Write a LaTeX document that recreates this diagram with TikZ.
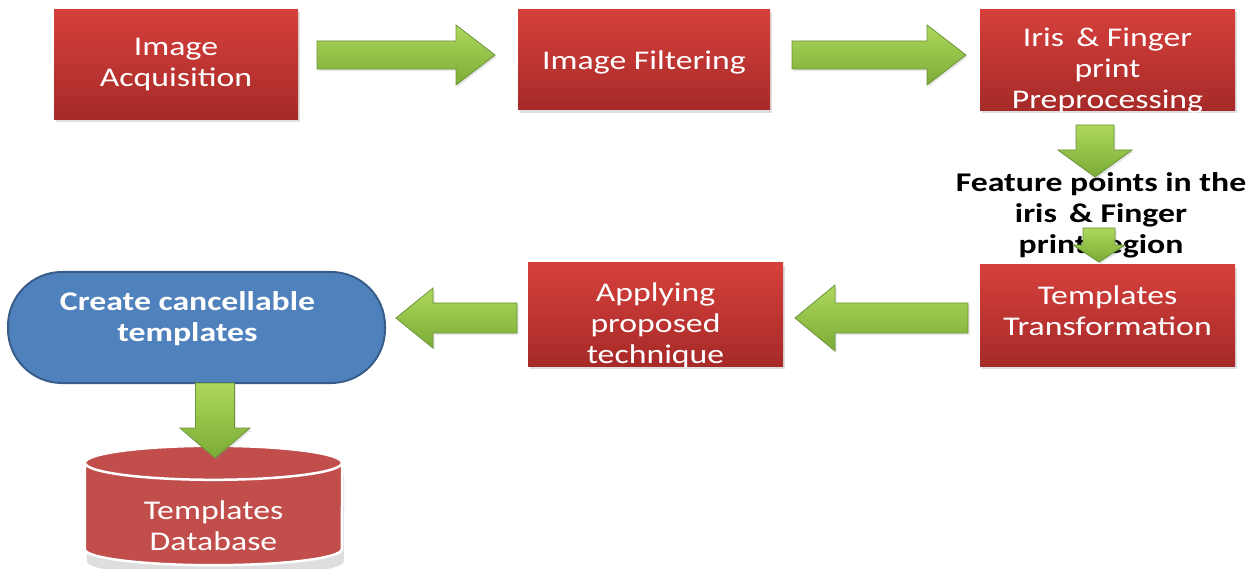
\documentclass[tikz,border=0pt]{standalone}
\usepackage{fontspec}
\setmainfont{Carlito}
\newfontfamily\boxfont[FakeStretch=1.25]{Carlito}
\usetikzlibrary{shadows,calc}
\definecolor{redtop}{RGB}{214,64,60}
\definecolor{redbot}{RGB}{166,42,40}
\definecolor{bluefill}{RGB}{79,129,189}
\definecolor{blueline}{RGB}{56,93,138}
\definecolor{greentop}{RGB}{172,216,92}
\definecolor{greenbot}{RGB}{124,172,54}
\definecolor{greenline}{RGB}{108,148,58}
\definecolor{cylred}{RGB}{194,78,76}
\tikzset{
  redbox/.style={rectangle, top color=redtop, bottom color=redbot, draw=none,
    drop shadow={opacity=0.25, shadow xshift=1.5pt, shadow yshift=-3pt}},
  wtext/.style={text=white, align=center, font=\boxfont\fontsize{27}{31}\selectfont},
  btext/.style={text=black, align=center, font=\boxfont\bfseries\fontsize{27}{31}\selectfont},
  garrowstyle/.style={top color=greentop, bottom color=greenbot, draw=greenline, line width=0.8pt,
    drop shadow={opacity=0.2, shadow xshift=1.5pt, shadow yshift=-2pt}},
}
% #1 centre coordinate, #2 angle, #3 length, #4 shaft half, #5 head half, #6 head length
\newcommand\garrow[6]{%
  \begin{scope}[shift={(#1)}, rotate=#2]
    \path[garrowstyle] ({-#3/2},-#4) -- ({#3/2-#6},-#4) -- ({#3/2-#6},-#5) -- ({#3/2},0)
      -- ({#3/2-#6},#5) -- ({#3/2-#6},#4) -- ({-#3/2},#4) -- cycle;
  \end{scope}}
\begin{document}
\begin{tikzpicture}[x=1pt,y=-1pt]
\useasboundingbox[fill=white] (0,0) rectangle (1256,569);

% boxes
\node[redbox, minimum width=244pt, minimum height=110pt] (n1) at (176,64.5) {};
\node[wtext] (t1) at (n1.center) {Image\\Acquisition};
\node[redbox, minimum width=252pt, minimum height=100pt] (n2) at (644,60) {};
\node[wtext] (t2) at ($(n2.center)+(0,2)$) {Image Filtering};
\node[redbox, minimum width=255pt, minimum height=101pt] (n3) at (1107.5,60) {};
\node[wtext] (t3) at ($(n3.center)+(0,11)$) {Iris \,\& Finger\\print\\Preprocessing};
\node[redbox, minimum width=255pt, minimum height=101pt] (n4) at (1107.5,315.5) {};
\node[wtext] (t4) at ($(n4.center)+(0,-5)$) {Templates\\Transformation};
\node[redbox, minimum width=255pt, minimum height=103pt] (n5) at (655.5,314.5) {};
\node[wtext] (t5) at ($(n5.center)+(0,11)$) {Applying\\proposed\\technique};
\node[rectangle, rounded corners=54pt, fill=bluefill, draw=blueline, line width=2pt,
  minimum width=377pt, minimum height=111pt] (n6) at (196.5,327.5) {};
\node[wtext, font=\boxfont\bfseries\fontsize{27}{31}\selectfont] (t6) at ($(n6.center)+(-9,-9)$) {Create cancellable\\templates};

% database cylinder
\node[minimum width=257pt, minimum height=102pt] (db) at (213.5,506) {};
\path[fill=black!25, opacity=0.5] ($(db.north west)+(2,19)$) -- ($(db.south west)+(2,4)$)
  arc[start angle=180, end angle=0, x radius=128.5, y radius=16]
  -- ($(db.north east)+(2,19)$) -- cycle;
\path[fill=cylred, draw=white, line width=2.5pt] ($(db.north west)+(0,8)$) -- ($(db.south west)+(0,-8)$)
  arc[start angle=180, end angle=0, x radius=128.5, y radius=16]
  -- ($(db.north east)+(0,8)$)
  arc[start angle=0, end angle=-180, x radius=128.5, y radius=17] -- cycle;
\draw[white, line width=2.5pt, fill=cylred] ($(db.north)+(0,8)$) ellipse[x radius=128.5, y radius=17];
\node[wtext] (t7) at ($(db.center)+(0,20)$) {Templates\\Database};

% feature text
\node[btext] (feat) at (1101,215) {Feature points in the\\iris \,\& Finger\\print region};

% arrows
\coordinate (a1) at (406,55);
\coordinate (a2) at (879,55);
\coordinate (a3) at (1095,151);
\coordinate (a4) at (1099,245);
\coordinate (a5) at (881.5,318);
\coordinate (a6) at (456.5,318);
\coordinate (a7) at (215,420.5);
\garrow{a1}{0}{178}{14}{30}{39}
\garrow{a2}{0}{174}{14}{30}{39}
\garrow{a3}{-90}{52}{19}{37}{27}
\garrow{a4}{-90}{34}{16}{26}{17}
\garrow{a5}{180}{173}{15}{33}{40}
\garrow{a6}{180}{121}{15}{30}{37}
\garrow{a7}{-90}{75}{19.5}{35}{30}
\end{tikzpicture}
\end{document}
